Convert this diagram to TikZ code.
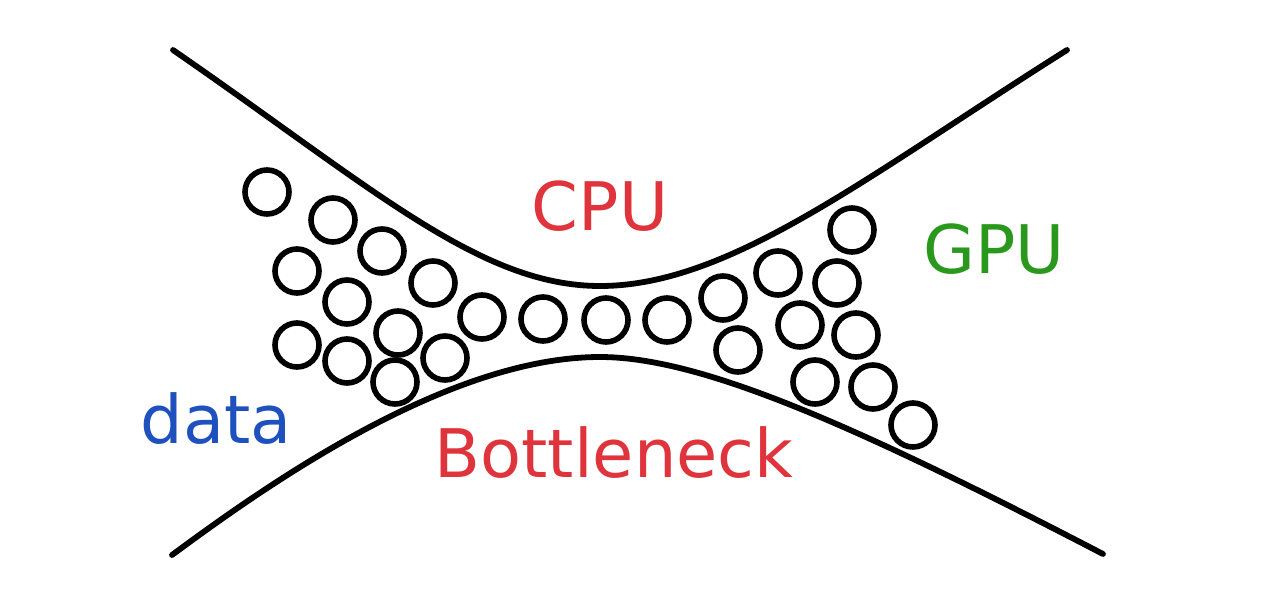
\documentclass[tikz,border=0pt]{standalone}
\usepackage{fontspec}
\setmainfont{DejaVu Sans}
\usepackage{tikz}
\definecolor{cpured}{RGB}{224,52,60}
\definecolor{gpugreen}{RGB}{42,152,28}
\definecolor{datablue}{RGB}{30,80,190}

\begin{document}
\begin{tikzpicture}[x=0.5pt,y=-0.5pt,
  wall/.style={line width=2.9pt,line cap=round},
  ball/.style={circle,draw,line width=2.8pt,minimum size=22pt,inner sep=0pt},
  word/.style={anchor=base,font=\fontsize{33.5pt}{33.5pt}\selectfont}]
\fill [white] (0,0) rectangle (1280,600);
\draw [wall] (173,50) .. controls (373,188) and (480,286) .. (600,286)
  .. controls (730,286) and (867,176) .. (1067,50);
\draw [wall] (172,555) .. controls (272,481) and (450,357) .. (600,357)
  .. controls (700,357) and (853,424) .. (1103,554);
\foreach \x/\y [count=\i] in {267/192,333/220,382/251,297/271,433/283,347/302,482/317,297/345,398/333,347/361,445/358,395/382,543/319,606/320,667/320,723/298,738/350,778/273,852/230,837/283,800/325,856/335,815/382,873/387,913/425}
  \node [ball] (b\i) at (\x,\y) {};
\node [word,text=cpured] (cpu) at (600,230) {CPU};
\node [word,text=gpugreen] (gpu) at (994,273) {GPU};
\node [word,text=datablue] (data) at (216,443) {data};
\node [word,text=cpured] (neck) at (614,477) {Bottleneck};
\end{tikzpicture}
\end{document}
